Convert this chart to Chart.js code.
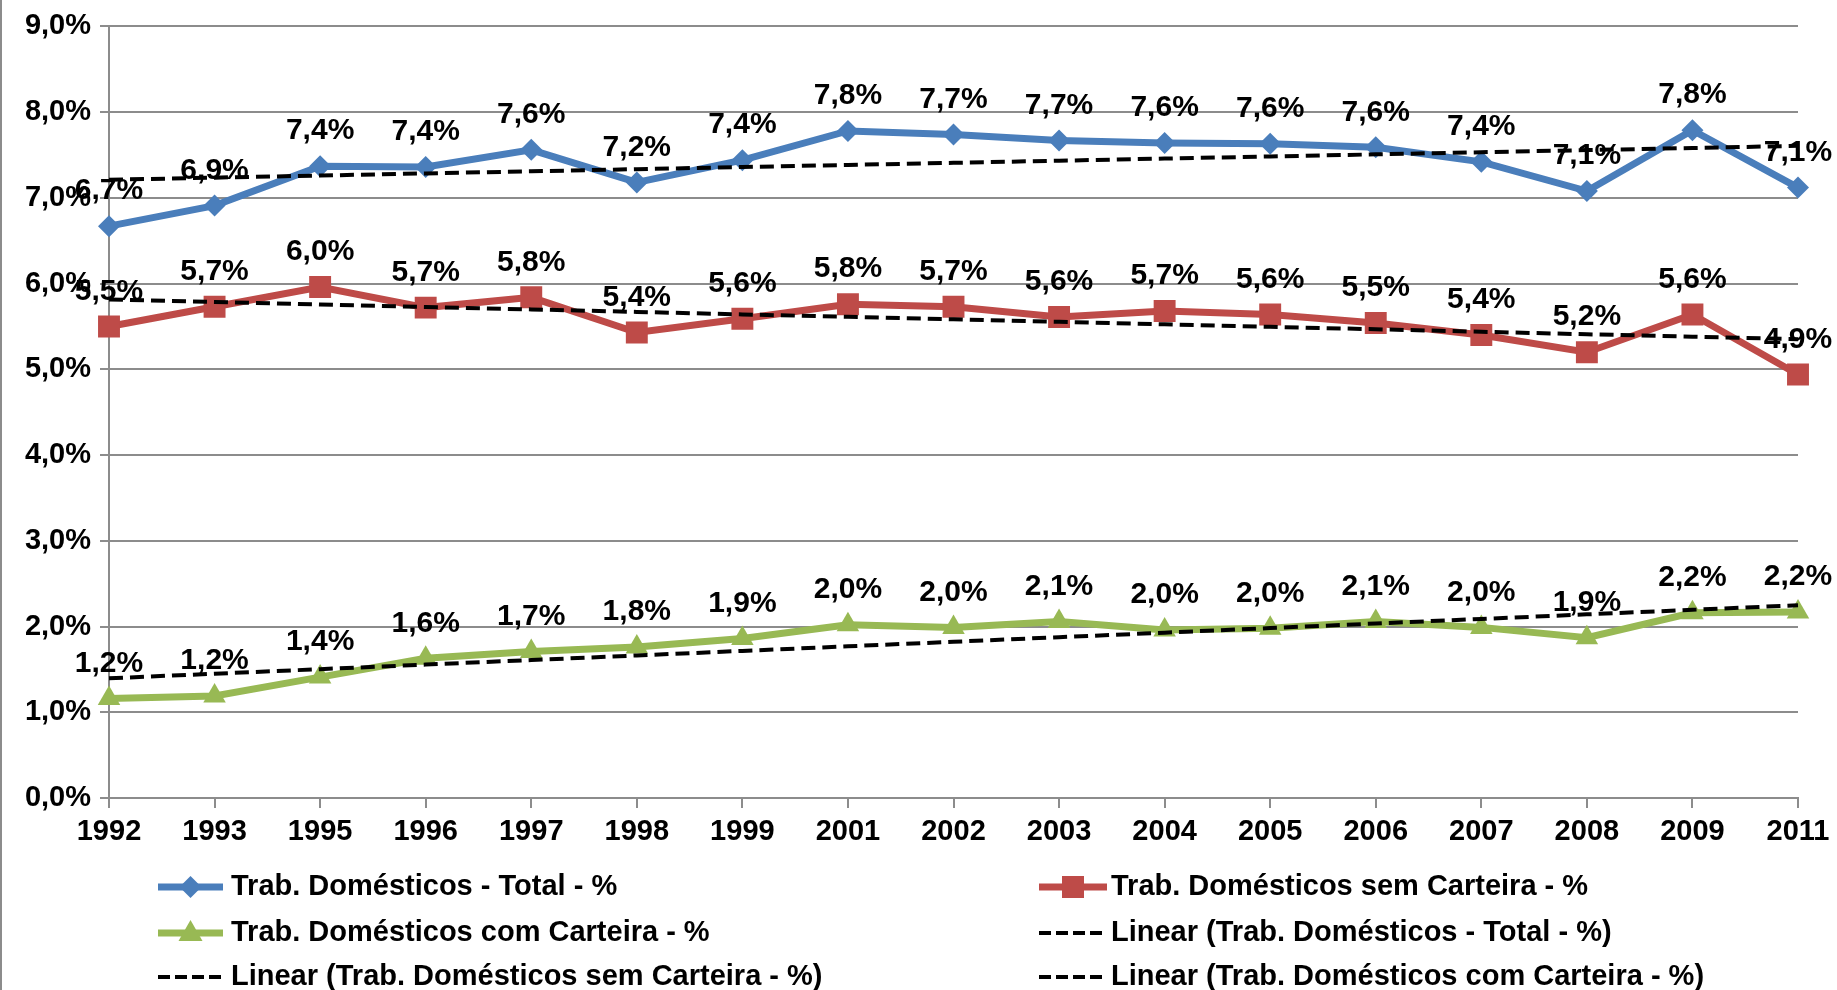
<!DOCTYPE html>
<html>
<head>
<meta charset="utf-8">
<script src="https://cdn.jsdelivr.net/npm/chart.js@4.4.1/dist/chart.umd.min.js"></script>
<style>
html, body { margin: 0; padding: 0; background: #fff; }
#wrap { position: relative; width: 1837px; height: 990px; }
</style>
</head>
<body>
<div id="wrap"><canvas id="chart" width="1837" height="990"></canvas></div>
<script>
"use strict";

var years = [ "1992", "1993", "1995", "1996", "1997", "1998", "1999", "2001", "2002", "2003", "2004", "2005", "2006", "2007", "2008", "2009", "2011" ];
var total = [ 6.67, 6.91, 7.37, 7.36, 7.56, 7.18, 7.44, 7.78, 7.74, 7.67, 7.64, 7.63, 7.59, 7.42, 7.08, 7.79, 7.12 ];
var semCarteira = [ 5.50, 5.73, 5.96, 5.72, 5.84, 5.43, 5.59, 5.76, 5.73, 5.61, 5.68, 5.64, 5.54, 5.40, 5.20, 5.64, 4.94 ];
var comCarteira = [ 1.16, 1.19, 1.41, 1.63, 1.71, 1.76, 1.86, 2.02, 1.99, 2.06, 1.96, 1.98, 2.06, 1.99, 1.87, 2.16, 2.17 ];
var yMin = 0, yMax = 9, yStep = 1;

var names = [ "Trab. Domésticos - Total - %", "Trab. Domésticos sem Carteira - %", "Trab. Domésticos com Carteira - %" ];
var colors = [ "#4a7ebb", "#be4b48", "#98b954" ];
var shapes = [ "rectRot", "rect", "triangle" ];
var grid = "#8c8c8c";
var font = "'Liberation Sans', Arial, sans-serif";

// least squares trend, same as the spreadsheet "Linear" trendline
function trend(v) {
    var n = v.length, sx = 0, sy = 0, sxy = 0, sxx = 0;
    v.forEach(function(y, i) { var x = i + 1; sx += x; sy += y; sxy += x * y; sxx += x * x; });
    var b = (n * sxy - sx * sy) / (n * sxx - sx * sx), a = (sy - b * sx) / n;
    return v.map(function(y, i) { return a + b * (i + 1); });
}

function pct(v) { return v.toFixed(1).replace(".", ",") + "%"; }

function marker(ctx, shape, x, y, color) {
    ctx.save();
    ctx.fillStyle = color;
    ctx.beginPath();
    if (shape === "rectRot") {
        ctx.moveTo(x, y - 11); ctx.lineTo(x + 11, y); ctx.lineTo(x, y + 11); ctx.lineTo(x - 11, y);
    } else if (shape === "rect") {
        ctx.rect(x - 11, y - 11, 22, 22);
    } else {
        ctx.moveTo(x, y - 13); ctx.lineTo(x + 12, y + 8); ctx.lineTo(x - 12, y + 8);
    }
    ctx.closePath();
    ctx.fill();
    ctx.restore();
}

var series = [ total, semCarteira, comCarteira ];
var datasets = series.map(function(s, i) {
    return {
        label: names[i],
        data: s,
        borderColor: colors[i],
        backgroundColor: colors[i],
        borderWidth: 7,
        pointStyle: shapes[i],
        pointRadius: [ 11, 15.5, 13 ][i],
        pointBackgroundColor: colors[i],
        pointBorderWidth: 0,
        order: 2
    };
});
series.forEach(function(s, i) {
    datasets.push({
        label: "Linear (" + names[i] + ")",
        data: trend(s),
        borderColor: "#000",
        borderWidth: 4,
        borderDash: [ 14, 7 ],
        pointRadius: 0,
        order: 0
    });
});

var labelsPlugin = {
    id: "valueLabels",
    afterDatasetsDraw: function(chart) {
        var ctx = chart.ctx;
        ctx.save();
        ctx.font = "bold 30px " + font;
        ctx.fillStyle = "#000";
        ctx.textAlign = "center";
        ctx.textBaseline = "middle";
        for (var d = 0; d < 3; d++) {
            chart.getDatasetMeta(d).data.forEach(function(p, i) {
                ctx.fillText(pct(series[d][i]), p.x, p.y - 35);
            });
        }
        ctx.restore();
    }
};

var legendPlugin = {
    id: "sideLegend",
    afterDraw: function(chart) {
        var ctx = chart.ctx;
        var cols = [ [ 158, 223, 231 ], [ 1039, 1107, 1111 ] ], rows = [ 887, 933, 977 ];
        ctx.save();
        ctx.fillStyle = grid;
        ctx.fillRect(0, 0, 2, 990);
        ctx.font = "bold 29px " + font;
        ctx.textBaseline = "middle";
        chart.data.datasets.forEach(function(ds, i) {
            var c = cols[i % 2], y = rows[Math.floor(i / 2)];
            ctx.save();
            ctx.strokeStyle = ds.borderColor;
            if (i < 3) {
                ctx.lineWidth = 7;
            } else {
                ctx.lineWidth = 4;
                ctx.setLineDash([ 12, 5 ]);
            }
            ctx.beginPath();
            ctx.moveTo(c[0], y); ctx.lineTo(c[1], y);
            ctx.stroke();
            ctx.restore();
            if (i < 3) marker(ctx, shapes[i], (c[0] + c[1]) / 2, y, colors[i]);
            ctx.fillStyle = "#000";
            ctx.fillText(ds.label, c[2], y);
        });
        ctx.restore();
    }
};

new Chart(document.getElementById("chart"), {
    type: "line",
    data: { labels: years, datasets: datasets },
    plugins: [ labelsPlugin, legendPlugin ],
    options: {
        responsive: false,
        animation: false,
        layout: { padding: { top: 25, right: 39, left: 0, bottom: 0 } },
        plugins: { legend: { display: false }, tooltip: { enabled: false } },
        elements: { line: { tension: 0 } },
        scales: {
            x: {
                type: "category",
                offset: false,
                grid: { drawOnChartArea: false, drawTicks: true, tickLength: 10, color: grid, lineWidth: 2 },
                border: { display: true, color: grid, width: 2 },
                ticks: { color: "#000", padding: 7, maxRotation: 0, autoSkip: false, font: { family: font, size: 29, weight: "bold" } },
                afterFit: function(s) { s.height = 192; }
            },
            y: {
                min: yMin,
                max: yMax,
                grid: { color: grid, lineWidth: 2, tickLength: 9, drawTicks: true },
                border: { display: true, color: grid, width: 2 },
                ticks: { stepSize: yStep, padding: 9, color: "#000", font: { family: font, size: 29, weight: "bold" }, callback: function(v) { return pct(v); } },
                afterFit: function(s) { s.width = 109; }
            }
        }
    }
});
</script>
</body>
</html>
